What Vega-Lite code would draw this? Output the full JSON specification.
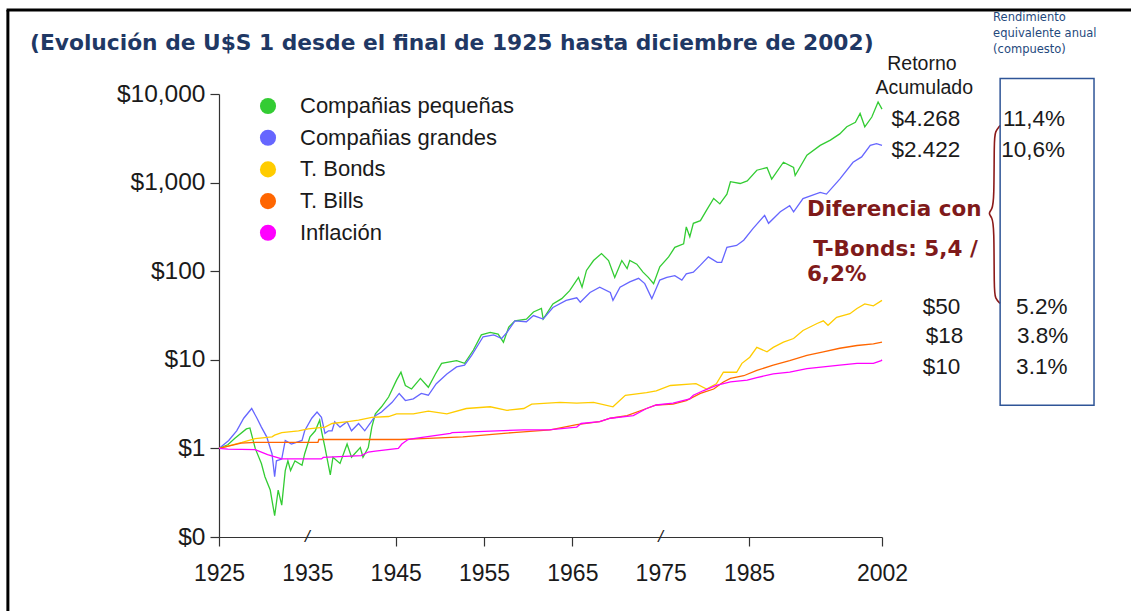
{
  "$schema": "https://vega.github.io/schema/vega-lite/v6.json",
  "width": 663,
  "height": 443,
  "autosize": {"type": "none"},
  "padding": {"left": 219, "top": 94, "right": 249, "bottom": 74},
  "background": "white",
  "config": {"view": {"stroke": null}, "font": "Liberation Sans"},
  "layer": [
    {
      "data": {"values": [
        {"yr": 1900.95, "yr2": 2034.5, "v": 88900, "v2": 88900},
        {"yr": 1901.1, "yr2": 1901.1, "v": 88900, "v2": 0.01}
      ]},
      "mark": {"type": "rule", "color": "#000000", "strokeWidth": 3},
      "encoding": {
        "x": {"field": "yr", "type": "quantitative"},
        "x2": {"field": "yr2"},
        "y": {"field": "v", "type": "quantitative"},
        "y2": {"field": "v2"}
      }
    },
    {
      "data": {"values": [
        {"s": "Compañias pequeñas", "yr": 1925.0, "v": 1.0}, {"s": "Compañias pequeñas", "yr": 1926.0, "v": 1.1}, {"s": "Compañias pequeñas", "yr": 1926.8, "v": 1.3}, {"s": "Compañias pequeñas", "yr": 1928.1, "v": 1.66}, {"s": "Compañias pequeñas", "yr": 1928.5, "v": 1.7}, {"s": "Compañias pequeñas", "yr": 1929.1, "v": 1.0}, {"s": "Compañias pequeñas", "yr": 1929.8, "v": 0.676}, {"s": "Compañias pequeñas", "yr": 1930.2, "v": 0.479}, {"s": "Compañias pequeñas", "yr": 1930.8, "v": 0.339}, {"s": "Compañias pequeñas", "yr": 1931.3, "v": 0.174}, {"s": "Compañias pequeñas", "yr": 1931.7, "v": 0.339}, {"s": "Compañias pequeñas", "yr": 1932.1, "v": 0.229}, {"s": "Compañias pequeñas", "yr": 1932.5, "v": 0.562}, {"s": "Compañias pequeñas", "yr": 1932.8, "v": 0.724}, {"s": "Compañias pequeñas", "yr": 1933.1, "v": 0.562}, {"s": "Compañias pequeñas", "yr": 1933.6, "v": 0.724}, {"s": "Compañias pequeñas", "yr": 1934.4, "v": 0.646}, {"s": "Compañias pequeñas", "yr": 1934.7, "v": 0.871}, {"s": "Compañias pequeñas", "yr": 1935.3, "v": 1.35}, {"s": "Compañias pequeñas", "yr": 1935.9, "v": 1.58}, {"s": "Compañias pequeñas", "yr": 1936.4, "v": 2.09}, {"s": "Compañias pequeñas", "yr": 1936.6, "v": 1.58}, {"s": "Compañias pequeñas", "yr": 1937.0, "v": 1.02}, {"s": "Compañias pequeñas", "yr": 1937.6, "v": 0.501}, {"s": "Compañias pequeñas", "yr": 1937.9, "v": 0.794}, {"s": "Compañias pequeñas", "yr": 1938.7, "v": 0.676}, {"s": "Compañias pequeñas", "yr": 1939.5, "v": 1.12}, {"s": "Compañias pequeñas", "yr": 1940.0, "v": 0.794}, {"s": "Compañias pequeñas", "yr": 1941.0, "v": 1.02}, {"s": "Compañias pequeñas", "yr": 1941.3, "v": 0.794}, {"s": "Compañias pequeñas", "yr": 1941.9, "v": 1.02}, {"s": "Compañias pequeñas", "yr": 1942.3, "v": 1.74}, {"s": "Compañias pequeñas", "yr": 1942.7, "v": 2.45}, {"s": "Compañias pequeñas", "yr": 1943.4, "v": 2.95}, {"s": "Compañias pequeñas", "yr": 1944.2, "v": 3.8}, {"s": "Compañias pequeñas", "yr": 1945.1, "v": 5.89}, {"s": "Compañias pequeñas", "yr": 1945.6, "v": 7.24}, {"s": "Compañias pequeñas", "yr": 1946.1, "v": 5.13}, {"s": "Compañias pequeñas", "yr": 1946.8, "v": 4.68}, {"s": "Compañias pequeñas", "yr": 1947.8, "v": 6.17}, {"s": "Compañias pequeñas", "yr": 1948.7, "v": 4.9}, {"s": "Compañias pequeñas", "yr": 1949.5, "v": 6.92}, {"s": "Compañias pequeñas", "yr": 1950.2, "v": 9.12}, {"s": "Compañias pequeñas", "yr": 1951.9, "v": 9.77}, {"s": "Compañias pequeñas", "yr": 1952.8, "v": 9.12}, {"s": "Compañias pequeñas", "yr": 1953.8, "v": 12.9}, {"s": "Compañias pequeñas", "yr": 1954.7, "v": 19.1}, {"s": "Compañias pequeñas", "yr": 1955.7, "v": 20.4}, {"s": "Compañias pequeñas", "yr": 1956.6, "v": 19.5}, {"s": "Compañias pequeñas", "yr": 1957.2, "v": 15.8}, {"s": "Compañias pequeñas", "yr": 1957.8, "v": 23.4}, {"s": "Compañias pequeñas", "yr": 1958.5, "v": 27.5}, {"s": "Compañias pequeñas", "yr": 1959.8, "v": 28.8}, {"s": "Compañias pequeñas", "yr": 1960.6, "v": 34.7}, {"s": "Compañias pequeñas", "yr": 1961.5, "v": 38.0}, {"s": "Compañias pequeñas", "yr": 1961.7, "v": 28.8}, {"s": "Compañias pequeñas", "yr": 1962.8, "v": 42.7}, {"s": "Compañias pequeñas", "yr": 1963.8, "v": 49.0}, {"s": "Compañias pequeñas", "yr": 1964.7, "v": 60.3}, {"s": "Compañias pequeñas", "yr": 1965.7, "v": 85.1}, {"s": "Compañias pequeñas", "yr": 1966.1, "v": 66.1}, {"s": "Compañias pequeñas", "yr": 1966.6, "v": 102}, {"s": "Compañias pequeñas", "yr": 1967.4, "v": 132}, {"s": "Compañias pequeñas", "yr": 1968.3, "v": 158}, {"s": "Compañias pequeñas", "yr": 1969.1, "v": 132}, {"s": "Compañias pequeñas", "yr": 1969.8, "v": 85.1}, {"s": "Compañias pequeñas", "yr": 1970.6, "v": 132}, {"s": "Compañias pequeñas", "yr": 1971.2, "v": 107}, {"s": "Compañias pequeñas", "yr": 1971.5, "v": 132}, {"s": "Compañias pequeñas", "yr": 1972.3, "v": 120}, {"s": "Compañias pequeñas", "yr": 1973.0, "v": 97.7}, {"s": "Compañias pequeñas", "yr": 1973.6, "v": 85.1}, {"s": "Compañias pequeñas", "yr": 1974.2, "v": 72.4}, {"s": "Compañias pequeñas", "yr": 1974.9, "v": 112}, {"s": "Compañias pequeñas", "yr": 1975.9, "v": 145}, {"s": "Compañias pequeñas", "yr": 1976.6, "v": 186}, {"s": "Compañias pequeñas", "yr": 1977.6, "v": 204}, {"s": "Compañias pequeñas", "yr": 1977.9, "v": 316}, {"s": "Compañias pequeñas", "yr": 1978.3, "v": 245}, {"s": "Compañias pequeñas", "yr": 1978.7, "v": 347}, {"s": "Compañias pequeñas", "yr": 1979.5, "v": 372}, {"s": "Compañias pequeñas", "yr": 1980.2, "v": 490}, {"s": "Compañias pequeñas", "yr": 1981.0, "v": 661}, {"s": "Compañias pequeñas", "yr": 1981.7, "v": 575}, {"s": "Compañias pequeñas", "yr": 1982.5, "v": 741}, {"s": "Compañias pequeñas", "yr": 1982.9, "v": 1023}, {"s": "Compañias pequeñas", "yr": 1984.0, "v": 977}, {"s": "Compañias pequeñas", "yr": 1984.8, "v": 1047}, {"s": "Compañias pequeñas", "yr": 1986.0, "v": 1380}, {"s": "Compañias pequeñas", "yr": 1987.3, "v": 1479}, {"s": "Compañias pequeñas", "yr": 1987.9, "v": 1096}, {"s": "Compañias pequeñas", "yr": 1989.4, "v": 1698}, {"s": "Compañias pequeñas", "yr": 1990.7, "v": 1479}, {"s": "Compañias pequeñas", "yr": 1990.9, "v": 1202}, {"s": "Compañias pequeñas", "yr": 1992.4, "v": 2042}, {"s": "Compañias pequeñas", "yr": 1994.1, "v": 2630}, {"s": "Compañias pequeñas", "yr": 1995.4, "v": 3020}, {"s": "Compañias pequeñas", "yr": 1996.6, "v": 3548}, {"s": "Compañias pequeñas", "yr": 1997.5, "v": 4266}, {"s": "Compañias pequeñas", "yr": 1998.6, "v": 4786}, {"s": "Compañias pequeñas", "yr": 1999.2, "v": 6026}, {"s": "Compañias pequeñas", "yr": 1999.8, "v": 4266}, {"s": "Compañias pequeñas", "yr": 2000.7, "v": 5495}, {"s": "Compañias pequeñas", "yr": 2001.5, "v": 8128}, {"s": "Compañias pequeñas", "yr": 2002.0, "v": 6761},

        {"s": "Compañias grandes", "yr": 1925.0, "v": 1.0}, {"s": "Compañias grandes", "yr": 1926.1, "v": 1.23}, {"s": "Compañias grandes", "yr": 1927.0, "v": 1.58}, {"s": "Compañias grandes", "yr": 1927.8, "v": 2.19}, {"s": "Compañias grandes", "yr": 1928.7, "v": 2.82}, {"s": "Compañias grandes", "yr": 1929.3, "v": 2.19}, {"s": "Compañias grandes", "yr": 1929.8, "v": 1.74}, {"s": "Compañias grandes", "yr": 1930.4, "v": 1.35}, {"s": "Compañias grandes", "yr": 1931.0, "v": 0.871}, {"s": "Compañias grandes", "yr": 1931.3, "v": 0.479}, {"s": "Compañias grandes", "yr": 1931.5, "v": 0.724}, {"s": "Compañias grandes", "yr": 1932.1, "v": 0.759}, {"s": "Compañias grandes", "yr": 1932.5, "v": 1.23}, {"s": "Compañias grandes", "yr": 1933.2, "v": 1.12}, {"s": "Compañias grandes", "yr": 1934.4, "v": 1.23}, {"s": "Compañias grandes", "yr": 1934.7, "v": 1.58}, {"s": "Compañias grandes", "yr": 1935.5, "v": 2.19}, {"s": "Compañias grandes", "yr": 1936.1, "v": 2.57}, {"s": "Compañias grandes", "yr": 1936.6, "v": 2.24}, {"s": "Compañias grandes", "yr": 1937.0, "v": 1.48}, {"s": "Compañias grandes", "yr": 1937.4, "v": 1.58}, {"s": "Compañias grandes", "yr": 1937.8, "v": 1.58}, {"s": "Compañias grandes", "yr": 1938.1, "v": 2.0}, {"s": "Compañias grandes", "yr": 1938.7, "v": 1.74}, {"s": "Compañias grandes", "yr": 1939.5, "v": 2.0}, {"s": "Compañias grandes", "yr": 1940.0, "v": 1.58}, {"s": "Compañias grandes", "yr": 1940.8, "v": 1.91}, {"s": "Compañias grandes", "yr": 1941.5, "v": 1.58}, {"s": "Compañias grandes", "yr": 1942.1, "v": 1.91}, {"s": "Compañias grandes", "yr": 1942.7, "v": 2.34}, {"s": "Compañias grandes", "yr": 1943.4, "v": 2.57}, {"s": "Compañias grandes", "yr": 1944.6, "v": 3.31}, {"s": "Compañias grandes", "yr": 1945.4, "v": 4.17}, {"s": "Compañias grandes", "yr": 1946.1, "v": 3.47}, {"s": "Compañias grandes", "yr": 1947.0, "v": 3.63}, {"s": "Compañias grandes", "yr": 1947.9, "v": 4.17}, {"s": "Compañias grandes", "yr": 1948.7, "v": 3.98}, {"s": "Compañias grandes", "yr": 1949.6, "v": 5.37}, {"s": "Compañias grandes", "yr": 1950.8, "v": 6.92}, {"s": "Compañias grandes", "yr": 1951.9, "v": 8.32}, {"s": "Compañias grandes", "yr": 1952.8, "v": 8.71}, {"s": "Compañias grandes", "yr": 1953.6, "v": 11.2}, {"s": "Compañias grandes", "yr": 1954.9, "v": 18.2}, {"s": "Compañias grandes", "yr": 1956.1, "v": 19.1}, {"s": "Compañias grandes", "yr": 1957.0, "v": 17.4}, {"s": "Compañias grandes", "yr": 1957.6, "v": 20.4}, {"s": "Compañias grandes", "yr": 1958.5, "v": 27.5}, {"s": "Compañias grandes", "yr": 1959.8, "v": 26.9}, {"s": "Compañias grandes", "yr": 1960.6, "v": 31.6}, {"s": "Compañias grandes", "yr": 1961.7, "v": 28.8}, {"s": "Compañias grandes", "yr": 1962.8, "v": 38.9}, {"s": "Compañias grandes", "yr": 1964.3, "v": 46.8}, {"s": "Compañias grandes", "yr": 1965.5, "v": 50.1}, {"s": "Compañias grandes", "yr": 1965.9, "v": 44.7}, {"s": "Compañias grandes", "yr": 1967.0, "v": 57.5}, {"s": "Compañias grandes", "yr": 1968.1, "v": 66.1}, {"s": "Compañias grandes", "yr": 1969.3, "v": 57.5}, {"s": "Compañias grandes", "yr": 1969.6, "v": 46.8}, {"s": "Compañias grandes", "yr": 1970.4, "v": 66.1}, {"s": "Compañias grandes", "yr": 1971.5, "v": 75.9}, {"s": "Compañias grandes", "yr": 1972.5, "v": 83.2}, {"s": "Compañias grandes", "yr": 1973.2, "v": 72.4}, {"s": "Compañias grandes", "yr": 1974.0, "v": 49.0}, {"s": "Compañias grandes", "yr": 1974.9, "v": 79.4}, {"s": "Compañias grandes", "yr": 1975.7, "v": 85.1}, {"s": "Compañias grandes", "yr": 1976.6, "v": 89.1}, {"s": "Compañias grandes", "yr": 1977.4, "v": 79.4}, {"s": "Compañias grandes", "yr": 1977.9, "v": 93.3}, {"s": "Compañias grandes", "yr": 1978.7, "v": 97.7}, {"s": "Compañias grandes", "yr": 1979.5, "v": 117}, {"s": "Compañias grandes", "yr": 1980.4, "v": 145}, {"s": "Compañias grandes", "yr": 1981.4, "v": 126}, {"s": "Compañias grandes", "yr": 1981.9, "v": 126}, {"s": "Compañias grandes", "yr": 1982.5, "v": 186}, {"s": "Compañias grandes", "yr": 1983.6, "v": 195}, {"s": "Compañias grandes", "yr": 1984.4, "v": 224}, {"s": "Compañias grandes", "yr": 1985.5, "v": 302}, {"s": "Compañias grandes", "yr": 1987.0, "v": 427}, {"s": "Compañias grandes", "yr": 1987.5, "v": 347}, {"s": "Compañias grandes", "yr": 1989.0, "v": 468}, {"s": "Compañias grandes", "yr": 1990.2, "v": 550}, {"s": "Compañias grandes", "yr": 1990.7, "v": 468}, {"s": "Compañias grandes", "yr": 1991.9, "v": 661}, {"s": "Compañias grandes", "yr": 1994.1, "v": 776}, {"s": "Compañias grandes", "yr": 1994.9, "v": 741}, {"s": "Compañias grandes", "yr": 1996.6, "v": 1096}, {"s": "Compañias grandes", "yr": 1998.3, "v": 1698}, {"s": "Compañias grandes", "yr": 1999.4, "v": 1950}, {"s": "Compañias grandes", "yr": 2000.5, "v": 2630}, {"s": "Compañias grandes", "yr": 2001.3, "v": 2754}, {"s": "Compañias grandes", "yr": 2002.0, "v": 2630},

        {"s": "T. Bonds", "yr": 1925.0, "v": 1.0}, {"s": "T. Bonds", "yr": 1926.1, "v": 1.07}, {"s": "T. Bonds", "yr": 1927.6, "v": 1.17}, {"s": "T. Bonds", "yr": 1929.1, "v": 1.29}, {"s": "T. Bonds", "yr": 1931.0, "v": 1.35}, {"s": "T. Bonds", "yr": 1931.3, "v": 1.41}, {"s": "T. Bonds", "yr": 1932.1, "v": 1.51}, {"s": "T. Bonds", "yr": 1934.0, "v": 1.58}, {"s": "T. Bonds", "yr": 1935.1, "v": 1.66}, {"s": "T. Bonds", "yr": 1937.0, "v": 1.74}, {"s": "T. Bonds", "yr": 1937.8, "v": 1.91}, {"s": "T. Bonds", "yr": 1939.6, "v": 2.0}, {"s": "T. Bonds", "yr": 1940.8, "v": 2.09}, {"s": "T. Bonds", "yr": 1942.3, "v": 2.24}, {"s": "T. Bonds", "yr": 1944.2, "v": 2.29}, {"s": "T. Bonds", "yr": 1945.1, "v": 2.45}, {"s": "T. Bonds", "yr": 1947.0, "v": 2.45}, {"s": "T. Bonds", "yr": 1948.7, "v": 2.63}, {"s": "T. Bonds", "yr": 1950.8, "v": 2.45}, {"s": "T. Bonds", "yr": 1953.0, "v": 2.82}, {"s": "T. Bonds", "yr": 1955.7, "v": 2.95}, {"s": "T. Bonds", "yr": 1957.6, "v": 2.69}, {"s": "T. Bonds", "yr": 1959.5, "v": 2.82}, {"s": "T. Bonds", "yr": 1960.4, "v": 3.16}, {"s": "T. Bonds", "yr": 1963.6, "v": 3.31}, {"s": "T. Bonds", "yr": 1965.5, "v": 3.24}, {"s": "T. Bonds", "yr": 1967.4, "v": 3.31}, {"s": "T. Bonds", "yr": 1969.6, "v": 2.95}, {"s": "T. Bonds", "yr": 1971.0, "v": 3.98}, {"s": "T. Bonds", "yr": 1973.4, "v": 4.27}, {"s": "T. Bonds", "yr": 1974.5, "v": 4.47}, {"s": "T. Bonds", "yr": 1976.1, "v": 5.13}, {"s": "T. Bonds", "yr": 1979.0, "v": 5.37}, {"s": "T. Bonds", "yr": 1980.2, "v": 4.68}, {"s": "T. Bonds", "yr": 1981.3, "v": 5.37}, {"s": "T. Bonds", "yr": 1982.1, "v": 7.24}, {"s": "T. Bonds", "yr": 1983.6, "v": 7.24}, {"s": "T. Bonds", "yr": 1984.2, "v": 9.12}, {"s": "T. Bonds", "yr": 1985.1, "v": 10.7}, {"s": "T. Bonds", "yr": 1986.0, "v": 13.8}, {"s": "T. Bonds", "yr": 1987.3, "v": 12.3}, {"s": "T. Bonds", "yr": 1988.1, "v": 13.8}, {"s": "T. Bonds", "yr": 1989.4, "v": 15.8}, {"s": "T. Bonds", "yr": 1990.7, "v": 17.4}, {"s": "T. Bonds", "yr": 1991.9, "v": 21.4}, {"s": "T. Bonds", "yr": 1993.7, "v": 25.7}, {"s": "T. Bonds", "yr": 1994.5, "v": 27.5}, {"s": "T. Bonds", "yr": 1995.1, "v": 24.5}, {"s": "T. Bonds", "yr": 1996.2, "v": 30.2}, {"s": "T. Bonds", "yr": 1997.9, "v": 33.1}, {"s": "T. Bonds", "yr": 1998.8, "v": 38.0}, {"s": "T. Bonds", "yr": 1999.8, "v": 42.7}, {"s": "T. Bonds", "yr": 2000.9, "v": 40.7}, {"s": "T. Bonds", "yr": 2002.0, "v": 46.8},

        {"s": "T. Bills", "yr": 1925.0, "v": 1.0}, {"s": "T. Bills", "yr": 1927.5, "v": 1.15}, {"s": "T. Bills", "yr": 1929.1, "v": 1.17}, {"s": "T. Bills", "yr": 1936.2, "v": 1.17}, {"s": "T. Bills", "yr": 1936.3, "v": 1.26}, {"s": "T. Bills", "yr": 1945.5, "v": 1.26}, {"s": "T. Bills", "yr": 1948.0, "v": 1.29}, {"s": "T. Bills", "yr": 1952.6, "v": 1.35}, {"s": "T. Bills", "yr": 1958.3, "v": 1.51}, {"s": "T. Bills", "yr": 1962.5, "v": 1.62}, {"s": "T. Bills", "yr": 1965.5, "v": 1.86}, {"s": "T. Bills", "yr": 1968.1, "v": 2.0}, {"s": "T. Bills", "yr": 1969.3, "v": 2.19}, {"s": "T. Bills", "yr": 1971.2, "v": 2.34}, {"s": "T. Bills", "yr": 1973.4, "v": 2.82}, {"s": "T. Bills", "yr": 1974.5, "v": 3.09}, {"s": "T. Bills", "yr": 1976.4, "v": 3.16}, {"s": "T. Bills", "yr": 1977.9, "v": 3.47}, {"s": "T. Bills", "yr": 1979.5, "v": 4.17}, {"s": "T. Bills", "yr": 1981.0, "v": 4.68}, {"s": "T. Bills", "yr": 1982.1, "v": 5.62}, {"s": "T. Bills", "yr": 1982.9, "v": 6.17}, {"s": "T. Bills", "yr": 1984.4, "v": 6.61}, {"s": "T. Bills", "yr": 1986.0, "v": 7.59}, {"s": "T. Bills", "yr": 1988.1, "v": 8.71}, {"s": "T. Bills", "yr": 1990.2, "v": 9.77}, {"s": "T. Bills", "yr": 1992.4, "v": 11.2}, {"s": "T. Bills", "yr": 1994.5, "v": 12.3}, {"s": "T. Bills", "yr": 1996.6, "v": 13.5}, {"s": "T. Bills", "yr": 1998.8, "v": 14.5}, {"s": "T. Bills", "yr": 2000.9, "v": 15.1}, {"s": "T. Bills", "yr": 2002.0, "v": 15.8},

        {"s": "Inflación", "yr": 1925.0, "v": 1.0}, {"s": "Inflación", "yr": 1926.0, "v": 0.98}, {"s": "Inflación", "yr": 1929.1, "v": 0.97}, {"s": "Inflación", "yr": 1930.5, "v": 0.85}, {"s": "Inflación", "yr": 1932.1, "v": 0.76}, {"s": "Inflación", "yr": 1936.6, "v": 0.76}, {"s": "Inflación", "yr": 1936.8, "v": 0.79}, {"s": "Inflación", "yr": 1941.1, "v": 0.83}, {"s": "Inflación", "yr": 1941.9, "v": 0.91}, {"s": "Inflación", "yr": 1942.7, "v": 0.93}, {"s": "Inflación", "yr": 1945.3, "v": 1.0}, {"s": "Inflación", "yr": 1945.7, "v": 1.12}, {"s": "Inflación", "yr": 1946.4, "v": 1.26}, {"s": "Inflación", "yr": 1947.0, "v": 1.29}, {"s": "Inflación", "yr": 1951.2, "v": 1.48}, {"s": "Inflación", "yr": 1951.4, "v": 1.51}, {"s": "Inflación", "yr": 1959.5, "v": 1.62}, {"s": "Inflación", "yr": 1962.3, "v": 1.62}, {"s": "Inflación", "yr": 1965.5, "v": 1.74}, {"s": "Inflación", "yr": 1966.0, "v": 1.91}, {"s": "Inflación", "yr": 1968.1, "v": 2.0}, {"s": "Inflación", "yr": 1969.3, "v": 2.19}, {"s": "Inflación", "yr": 1971.9, "v": 2.34}, {"s": "Inflación", "yr": 1973.4, "v": 2.82}, {"s": "Inflación", "yr": 1974.5, "v": 3.09}, {"s": "Inflación", "yr": 1976.4, "v": 3.24}, {"s": "Inflación", "yr": 1978.3, "v": 3.63}, {"s": "Inflación", "yr": 1978.7, "v": 3.98}, {"s": "Inflación", "yr": 1979.8, "v": 4.47}, {"s": "Inflación", "yr": 1981.3, "v": 5.13}, {"s": "Inflación", "yr": 1982.9, "v": 5.62}, {"s": "Inflación", "yr": 1984.8, "v": 5.89}, {"s": "Inflación", "yr": 1986.0, "v": 6.31}, {"s": "Inflación", "yr": 1988.1, "v": 6.92}, {"s": "Inflación", "yr": 1990.2, "v": 7.24}, {"s": "Inflación", "yr": 1992.4, "v": 7.94}, {"s": "Inflación", "yr": 1994.5, "v": 8.32}, {"s": "Inflación", "yr": 1996.6, "v": 8.71}, {"s": "Inflación", "yr": 1998.8, "v": 9.12}, {"s": "Inflación", "yr": 2000.9, "v": 9.12}, {"s": "Inflación", "yr": 2001.9, "v": 9.77}, {"s": "Inflación", "yr": 2002.0, "v": 10.0}
      ]},
      "mark": {"type": "line", "strokeWidth": 1.3},
      "encoding": {
        "x": {
          "field": "yr", "type": "quantitative",
          "scale": {"domain": [1925, 1985, 2002], "range": [0, 530, 663], "nice": false, "zero": false},
          "axis": {
            "values": [1925, 1935, 1945, 1955, 1965, 1975, 1985, 2002],
            "format": "d", "title": null, "grid": false,
            "labelFont": "Liberation Sans", "labelFontSize": 23, "labelColor": "#1a1a1a",
            "labelPadding": 16, "labelFlush": false, "labelOverlap": false,
            "tickSize": 9, "tickColor": "#333333", "tickWidth": 1.2,
            "tickOpacity": {"condition": {"test": "datum.value == 1935 || datum.value == 1975", "value": 0}, "value": 1},
            "domainColor": "#333333", "domainWidth": 1.2
          }
        },
        "y": {
          "field": "v", "type": "quantitative",
          "scale": {"type": "log", "domain": [0.1, 10000], "nice": false},
          "axis": {
            "values": [0.1, 1, 10, 100, 1000, 10000],
            "labelExpr": "datum.value < 0.5 ? '$0' : '$' + format(datum.value, ',')",
            "title": null, "grid": false,
            "labelFont": "Liberation Sans", "labelFontSize": 24.5, "labelColor": "#1a1a1a",
            "labelPadding": 5, "labelFlush": false, "labelOverlap": false, "labelDy": 4,
            "tickSize": 9, "tickColor": "#333333", "tickWidth": 1.2,
            "domainColor": "#333333", "domainWidth": 1.2
          }
        },
        "color": {
          "field": "s", "type": "nominal",
          "scale": {
            "domain": ["Compañias pequeñas", "Compañias grandes", "T. Bonds", "T. Bills", "Inflación"],
            "range": ["#33CC33", "#6666FF", "#FFCC00", "#FF6600", "#FF00FF"]
          },
          "legend": {
            "title": null, "orient": "none", "legendX": 38, "legendY": 1,
            "padding": 0, "symbolType": "circle", "symbolSize": 260, "symbolStrokeWidth": 0,
            "labelFont": "Liberation Sans", "labelFontSize": 22, "labelColor": "#1a1a1a", "labelLimit": 500,
            "rowPadding": 9.7, "labelOffset": 21,
            "encode": {"symbols": {"update": {"fill": {"scale": "color", "field": "value"}, "fillOpacity": {"value": 1}, "strokeWidth": {"value": 0}}}}
          }
        }
      }
    },
    {
      "data": {"values": [
        {"i": 0, "yr": 2017.1, "v": 4422}, {"i": 1, "yr": 2016.46, "v": 3784}, {"i": 2, "yr": 2016.33, "v": 2994},
        {"i": 3, "yr": 2016.33, "v": 630}, {"i": 4, "yr": 2016.07, "v": 498}, {"i": 5, "yr": 2015.56, "v": 449},
        {"i": 6, "yr": 2016.07, "v": 405}, {"i": 7, "yr": 2016.33, "v": 320}, {"i": 8, "yr": 2016.33, "v": 60.7},
        {"i": 9, "yr": 2016.46, "v": 49.3}, {"i": 10, "yr": 2017.1, "v": 43.3}
      ]},
      "mark": {"type": "line", "color": "#8B1A1A", "strokeWidth": 1.6, "interpolate": "basis"},
      "encoding": {
        "x": {"field": "yr", "type": "quantitative"},
        "y": {"field": "v", "type": "quantitative"},
        "order": {"field": "i", "type": "quantitative"}
      }
    },
    {
      "data": {"values": [{"yr": 2017.1, "yr2": 2029.1, "v": 15000, "v2": 3.06}]},
      "mark": {"type": "rect", "fill": null, "fillOpacity": 0, "stroke": "#2F5597", "strokeWidth": 1.5},
      "encoding": {
        "x": {"field": "yr", "type": "quantitative"},
        "x2": {"field": "yr2"},
        "y": {"field": "v", "type": "quantitative"},
        "y2": {"field": "v2"}
      }
    },
    {
      "data": {"values": [
        {"t": "(Evolución de U$S 1 desde el final de 1925 hasta diciembre de 2002)", "yr": 1903.6, "v": 37240}
      ]},
      "mark": {"type": "text", "align": "left", "baseline": "middle", "font": "DejaVu Sans", "fontWeight": "bold", "fontSize": 21.75, "color": "#1F3864"},
      "encoding": {"x": {"field": "yr", "type": "quantitative"}, "y": {"field": "v", "type": "quantitative"}, "text": {"field": "t"}}
    },
    {
      "data": {"values": [
        {"t": "Rendimiento", "yr": 2016.2, "v": 71300},
        {"t": "equivalente anual", "yr": 2016.2, "v": 47100},
        {"t": "(compuesto)", "yr": 2016.2, "v": 31050}
      ]},
      "mark": {"type": "text", "align": "left", "baseline": "middle", "font": "DejaVu Sans", "fontSize": 11.5, "color": "#1F497D"},
      "encoding": {"x": {"field": "yr", "type": "quantitative"}, "y": {"field": "v", "type": "quantitative"}, "text": {"field": "t"}}
    },
    {
      "data": {"values": [
        {"t": "Retorno", "yr": 2007.1, "v": 21580},
        {"t": "Acumulado", "yr": 2007.4, "v": 11560}
      ]},
      "mark": {"type": "text", "align": "center", "baseline": "middle", "font": "Liberation Sans", "fontSize": 19.5, "color": "#1a1a1a"},
      "encoding": {"x": {"field": "yr", "type": "quantitative"}, "y": {"field": "v", "type": "quantitative"}, "text": {"field": "t"}}
    },
    {
      "data": {"values": [
        {"t": "$4.268", "yr": 2012.0, "v": 5164},
        {"t": "$2.422", "yr": 2012.0, "v": 2307},
        {"t": "$50", "yr": 2012.0, "v": 39.0},
        {"t": "$18", "yr": 2012.4, "v": 18.4},
        {"t": "$10", "yr": 2012.0, "v": 8.21},
        {"t": "11,4%", "yr": 2025.4, "v": 5164},
        {"t": "10,6%", "yr": 2025.4, "v": 2307},
        {"t": "5.2%", "yr": 2025.7, "v": 39.0},
        {"t": "3.8%", "yr": 2025.8, "v": 18.4},
        {"t": "3.1%", "yr": 2025.7, "v": 8.21}
      ]},
      "mark": {"type": "text", "align": "right", "baseline": "middle", "font": "Liberation Sans", "fontSize": 22.5, "color": "#1a1a1a"},
      "encoding": {"x": {"field": "yr", "type": "quantitative"}, "y": {"field": "v", "type": "quantitative"}, "text": {"field": "t"}}
    },
    {
      "data": {"values": [
        {"t": "Diferencia con", "yr": 1992.4, "v": 485},
        {"t": "T-Bonds: 5,4 /", "yr": 1993.2, "v": 171.7},
        {"t": "6,2%", "yr": 1992.4, "v": 89.7}
      ]},
      "mark": {"type": "text", "align": "left", "baseline": "middle", "font": "DejaVu Sans", "fontWeight": "bold", "fontSize": 21.5, "color": "#7F1A1A"},
      "encoding": {"x": {"field": "yr", "type": "quantitative"}, "y": {"field": "v", "type": "quantitative"}, "text": {"field": "t"}}
    },
    {
      "data": {"values": [
        {"t": "/", "yr": 1935, "v": 0.1},
        {"t": "/", "yr": 1975, "v": 0.1}
      ]},
      "mark": {"type": "text", "align": "center", "baseline": "middle", "font": "Liberation Sans", "fontStyle": "italic", "fontSize": 17, "color": "#222222"},
      "encoding": {"x": {"field": "yr", "type": "quantitative"}, "y": {"field": "v", "type": "quantitative"}, "text": {"field": "t"}}
    }
  ]
}
